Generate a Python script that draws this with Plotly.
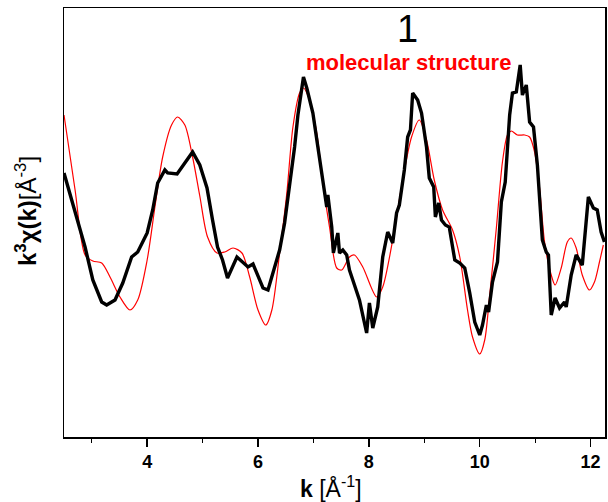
import plotly.graph_objects as go

# Experimental k^3 chi(k) (black) - arbitrary units
k_exp = [2.50, 2.88, 3.02, 3.18, 3.27, 3.42, 3.56, 3.72, 3.83, 4.00, 4.10, 4.19, 4.32, 4.37,
         4.54, 4.63, 4.73, 4.82, 4.95, 5.08, 5.18, 5.27, 5.36, 5.45, 5.62, 5.73, 5.82, 5.91,
         6.00, 6.09, 6.18, 6.27, 6.39, 6.48, 6.57, 6.66, 6.72, 6.79, 6.82, 6.88, 6.99, 7.08,
         7.17, 7.24, 7.26, 7.33, 7.36, 7.44, 7.47, 7.53, 7.60, 7.65, 7.71, 7.83, 7.96, 8.01,
         8.07, 8.16, 8.25, 8.34, 8.43, 8.50, 8.55, 8.64, 8.70, 8.75, 8.79, 8.88, 8.95, 9.04,
         9.09, 9.17, 9.20, 9.26, 9.31, 9.38, 9.45, 9.55, 9.64, 9.73, 9.82, 9.91, 10.00, 10.05,
         10.12, 10.16, 10.23, 10.32, 10.39, 10.46, 10.54, 10.59, 10.66, 10.73, 10.77, 10.84,
         10.90, 10.97, 11.04, 11.13, 11.20, 11.24, 11.29, 11.36, 11.44, 11.53, 11.56, 11.65,
         11.74, 11.85, 11.96, 12.05, 12.12, 12.19, 12.25]
chi_exp = [267, 193, 160, 138, 135, 140, 157, 183, 188, 207, 230, 257, 270, 267,
           266, 273, 280, 288, 275, 252, 220, 193, 180, 162, 183, 178, 173, 176,
           163, 152, 150, 167, 190, 217, 253, 293, 325, 350, 363, 352, 327, 293,
           260, 233, 245, 213, 187, 207, 187, 190, 185, 170, 160, 140, 107, 137,
           112, 133, 183, 208, 197, 227, 235, 270, 303, 310, 347, 340, 327, 293,
           262, 253, 223, 237, 220, 215, 213, 180, 177, 172, 147, 118, 105, 115,
           135, 128, 158, 178, 238, 258, 325, 347, 348, 375, 345, 355,
           318, 313, 275, 200, 188, 185, 125, 142, 132, 138, 133, 165,
           185, 175, 243, 232, 230, 208, 198]

# Molecular structure model (red)
k_mod = [2.50, 2.70, 2.88, 3.02, 3.18, 3.33, 3.51, 3.69, 3.83, 4.00, 4.14, 4.28, 4.44, 4.55,
         4.68, 4.82, 4.95, 5.09, 5.26, 5.40, 5.55, 5.71, 5.85, 6.00, 6.14, 6.25, 6.39, 6.52,
         6.63, 6.75, 6.82, 6.93, 7.06, 7.17, 7.29, 7.42, 7.51, 7.65, 7.74, 7.89, 8.14, 8.25,
         8.43, 8.61, 8.77, 8.91, 9.04, 9.18, 9.33, 9.51, 9.64, 9.78, 9.87, 10.00, 10.09,
         10.18, 10.30, 10.41, 10.50, 10.57, 10.68, 10.81, 10.90, 10.99, 11.08, 11.17, 11.29,
         11.36, 11.47, 11.58, 11.65, 11.74, 11.85, 11.98, 12.07, 12.16, 12.23]
chi_mod = [325, 250, 185, 179, 177, 163, 143, 130, 140, 180, 233, 283, 315, 323,
           315, 283, 244, 203, 187, 188, 192, 187, 163, 130, 115, 130, 187, 247,
           313, 347, 352, 340, 307, 257, 213, 172, 170, 183, 185, 173, 143, 153,
           200, 260, 303, 320, 300, 260, 230, 210, 183, 130, 103, 86, 100,
           145, 212, 278, 305, 309, 305, 305, 303, 288, 252, 198, 165,
           155, 172, 198, 202, 192, 165, 150, 158, 178, 195]

x_tickvals = [4, 6, 8, 10, 12]
x_ticktext = ["4", "6", "8", "10", "12"]
x_range = [2.5, 12.26]
y_range = [3, 432]

FONT = "Arial, Liberation Sans, sans-serif"

fig = go.Figure()
fig.add_trace(go.Scatter(x=k_mod, y=chi_mod, mode="lines",
                         line=dict(color="#ff0000", width=1.2, shape="spline", smoothing=0.8),
                         showlegend=False, hoverinfo="skip"))
fig.add_trace(go.Scatter(x=k_exp, y=chi_exp, mode="lines",
                         line=dict(color="#000000", width=3.4),
                         showlegend=False, hoverinfo="skip"))

fig.update_layout(
    width=608, height=502,
    margin=dict(l=64, r=2.5, t=8, b=65),
    paper_bgcolor="white", plot_bgcolor="white",
    font=dict(family=FONT, color="black"),
    xaxis=dict(range=x_range, showgrid=False, zeroline=False,
               showline=True, mirror=True, linecolor="black", linewidth=1.5,
               ticks="outside", ticklen=8, tickwidth=1.5, tickcolor="black",
               tickvals=x_tickvals, ticktext=["<b>%s</b>" % t for t in x_ticktext],
               tickfont=dict(size=18, family=FONT),
               minor=dict(ticks="outside", ticklen=4, tickwidth=1.2, tickcolor="black", dtick=1,
                          tick0=3, showgrid=False)),
    yaxis=dict(range=y_range, showgrid=False, zeroline=False,
               showline=True, mirror=True, linecolor="black", linewidth=1.5,
               ticks="", showticklabels=False),
    annotations=[
        dict(text="1", xref="paper", yref="paper", x=0.635, y=0.95, showarrow=False,
             xanchor="center", yanchor="middle", font=dict(size=38, color="black", family=FONT)),
        dict(text="<b>molecular structure</b>", xref="paper", yref="paper", x=0.637, y=0.874,
             showarrow=False, xanchor="center", yanchor="middle",
             font=dict(size=22, color="#ff0000", family=FONT)),
        dict(text="<b>k</b> [Å<sup>-1</sup>]", xref="paper", yref="paper", x=0.493, y=-0.117,
             showarrow=False, xanchor="center", yanchor="middle", font=dict(size=23, family=FONT)),
        dict(text="<b>k<sup>3</sup>χ(k)</b>[Å<sup>-3</sup>]", xref="paper", yref="paper",
             x=-0.07, y=0.527, textangle=-90, showarrow=False,
             xanchor="center", yanchor="middle", font=dict(size=24, family=FONT)),
    ],
)

fig.write_html("out.html",
               config={"displayModeBar": False, "staticPlot": True},
               post_script="document.body.style.margin='0px';document.body.style.padding='0px';"
                           "document.documentElement.style.overflow='hidden';")
